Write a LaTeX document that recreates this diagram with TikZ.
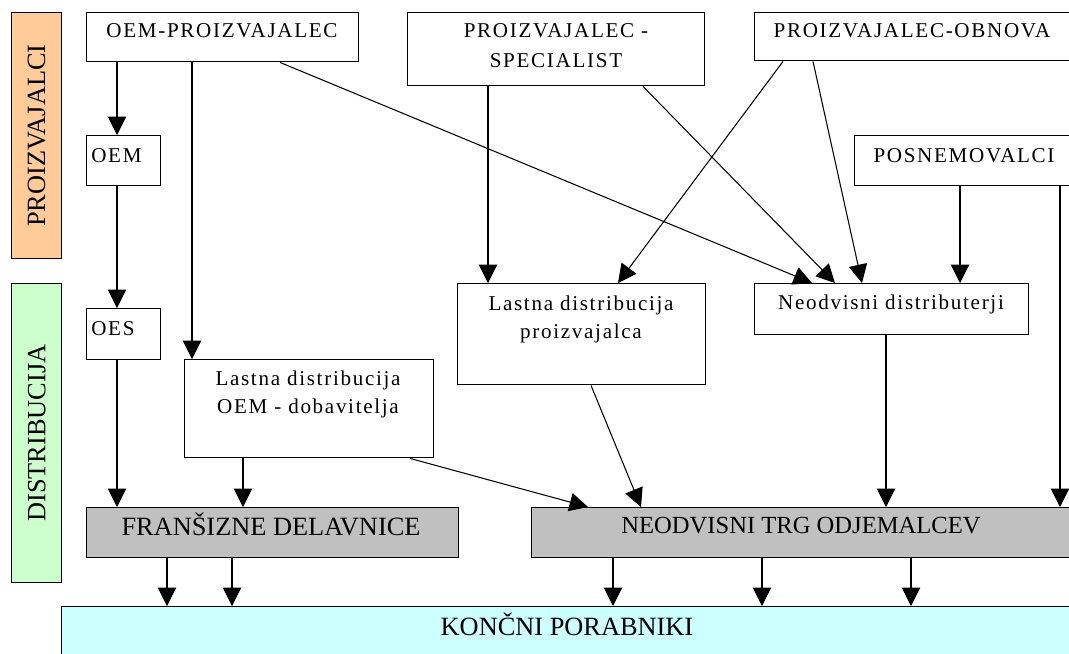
\documentclass[tikz,border=0pt]{standalone}
\usepackage{fontspec}
\setmainfont{Liberation Serif}
\newfontfamily\spaced[LetterSpace=8]{Liberation Serif}
\usetikzlibrary{arrows.meta}
\definecolor{bandO}{HTML}{FFCC99}
\definecolor{bandG}{HTML}{CCFFCC}
\definecolor{grayb}{HTML}{C0C0C0}
\definecolor{cyanb}{HTML}{CCFFFF}
\tikzset{
 box/.style={draw=black, line width=0.8pt, inner sep=0pt, anchor=north west, fill=white},
 sz/.style 2 args={minimum width=#1*0.02cm, minimum height=#2*0.02cm},
 txt/.style={font=\spaced\fontsize{12}{14}\selectfont, anchor=base, inner sep=0pt},
 big/.style={font=\fontsize{15}{18}\selectfont, anchor=base, inner sep=0pt},
 mid/.style={font=\fontsize{14}{17}\selectfont, anchor=base, inner sep=0pt},
 arr/.style={line width=0.6pt, -{Triangle[length=10.5pt,width=10.5pt]}},
 ln/.style={line width=0.6pt},
}
\begin{document}
\begin{tikzpicture}[x=0.02cm, y=-0.02cm]
\useasboundingbox (0,0) rectangle (1069,653);
\clip (0,0) rectangle (1069,653);
\fill[white] (0,0) rectangle (1069,653);
% bands
\node[box, sz={50}{246}, fill=bandO] (bandP) at (11,12) {};
\node[big, anchor=center, rotate=90] (lblP) at (bandP.center) {PROIZVAJALCI};
\node[box, sz={50}{299}, fill=bandG] (bandD) at (11,283) {};
\node[big, anchor=center, rotate=90] (lblD) at (bandD.center) {DISTRIBUCIJA};
% boxes
\node[box, sz={272}{49}] (oemp) at (86,12) {};
\node[txt] (toemp) at (222,37) {OEM-PROIZVAJALEC};
\node[box, sz={297}{73}] (spec) at (407,12) {};
\node[txt] (tspec1) at (556,37) {PROIZVAJALEC -};
\node[txt] (tspec2) at (556,67) {SPECIALIST};
\node[box, sz={330}{48}] (obn) at (754,12) {};
\node[txt] (tobn) at (912,37) {PROIZVAJALEC-OBNOVA};
\node[box, sz={74}{50}] (oem) at (86,135) {};
\node[txt, anchor=base west] (toem) at (91,162) {OEM};
\node[box, sz={230}{50}] (posn) at (854,135) {};
\node[txt] (tposn) at (964,162) {POSNEMOVALCI};
\node[box, sz={74}{51}] (oes) at (86,308) {};
\node[txt, anchor=base west] (toes) at (91,335) {OES};
\node[box, sz={248}{101}] (lpro) at (457,283) {};
\node[txt] (tlpro1) at (581,310) {Lastna distribucija};
\node[txt] (tlpro2) at (581,338) {proizvajalca};
\node[box, sz={274}{51}] (ndis) at (754,283) {};
\node[txt] (tndis) at (891,309) {Neodvisni distributerji};
\node[box, sz={249}{98}] (loem) at (184,359) {};
\node[txt] (tloem1) at (308,385) {Lastna distribucija};
\node[txt] (tloem2) at (308,413) {OEM - dobavitelja};
\node[box, sz={372}{50}, fill=grayb] (fran) at (86,507) {};
\node[big] (tfran) at (271,535) {FRANŠIZNE DELAVNICE};
\node[box, sz={560}{50}, fill=grayb] (trg) at (531,507) {};
\node[mid] (ttrg) at (801,533) {NEODVISNI TRG ODJEMALCEV};
\node[box, sz={1030}{80}, fill=cyanb] (konc) at (61,606) {};
\node[big] (tkonc) at (567,635) {KONČNI PORABNIKI};
% connectors
\draw[arr] (oemp.south -| 117,0) -- (oem.north -| 117,0);
\draw[arr] (oemp.south -| 192,0) -- (loem.north -| 192,0);
\draw[arr] (oemp.south -| 280,0) -- (ndis.north -| 812,0);
\draw[arr] (spec.south -| 488,0) -- (lpro.north -| 488,0);
\draw[arr] (spec.south -| 643,0) -- (ndis.north -| 835,0);
\draw[arr] (obn.south -| 783,0) -- (lpro.north -| 618,0);
\draw[arr] (obn.south -| 813,0) -- (ndis.north -| 862,0);
\draw[arr] (posn.south -| 960,0) -- (ndis.north -| 960,0);
\draw[arr] (posn.south -| 1060,0) -- (trg.north -| 1060,0);
\draw[arr] (oem.south -| 117,0) -- (oes.north -| 117,0);
\draw[arr] (oes.south -| 117,0) -- (fran.north -| 117,0);
\draw[arr] (loem.south -| 243,0) -- (fran.north -| 243,0);
\draw[arr] (loem.south -| 410,0) -- (trg.north -| 588,0);
\draw[arr] (lpro.south -| 591,0) -- (trg.north -| 641,0);
\draw[arr] (ndis.south -| 886,0) -- (trg.north -| 886,0);
\draw[arr] (fran.south -| 167,0) -- (konc.north -| 167,0);
\draw[arr] (fran.south -| 232,0) -- (konc.north -| 232,0);
\draw[arr] (trg.south -| 613,0) -- (konc.north -| 613,0);
\draw[arr] (trg.south -| 762,0) -- (konc.north -| 762,0);
\draw[arr] (trg.south -| 911,0) -- (konc.north -| 911,0);
\end{tikzpicture}
\end{document}
